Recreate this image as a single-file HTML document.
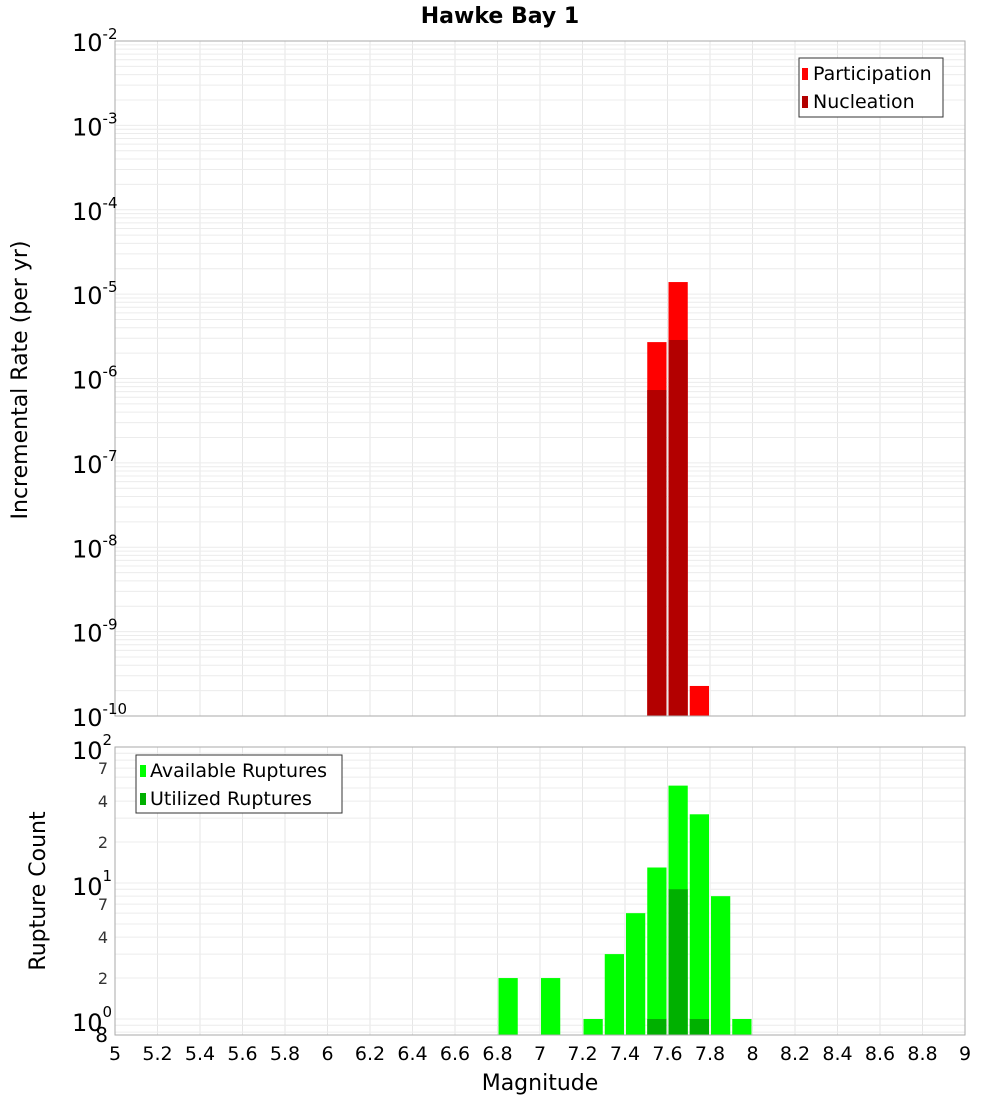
<!DOCTYPE html>
<html><head><meta charset="utf-8"><style>
body{margin:0;background:#fff;position:relative;}
svg{display:block;font-family:"DejaVu Sans","Liberation Sans",sans-serif;}
</style></head><body>
<svg id="chart" width="1000" height="1100" xmlns="http://www.w3.org/2000/svg">
<text x="500" y="23" text-anchor="middle" font-size="22" font-weight="bold">Hawke Bay 1</text>
<g id="topg"></g><g id="botg"></g>
</svg>
<script>
const rateBins=[7.55,7.65,7.75];
const participation=[2.7e-6,1.39e-5,2.27e-10];
const nucleation=[7.3e-7,2.86e-6,0];
const countBins=[6.85,7.05,7.25,7.35,7.45,7.55,7.65,7.75,7.85,7.95];
const available=[2,2,1,3,6,13,52,32,8,1];
const utilized=[0,0,0,0,0,1,9,1,0,0];
const xTicks=["5","5.2","5.4","5.6","5.8","6","6.2","6.4","6.6","6.8","7","7.2","7.4","7.6","7.8","8","8.2","8.4","8.6","8.8","9"];
const topExps=[-2,-3,-4,-5,-6,-7,-8,-9,-10];
const NS="http://www.w3.org/2000/svg";
const L=115,R=965;
const x=m=>L+(m-5)*(R-L)/4;
const yT=v=>41+(-2-Math.log10(v))*(716-41)/8;
const yB=v=>1019-Math.log10(v)*136;
function mk(p,tag,a){const e=document.createElementNS(NS,tag);for(const k in a)e.setAttribute(k,a[k]);p.appendChild(e);return e;}
const gTop=document.getElementById('topg'),gBot=document.getElementById('botg');
for(let i=0;i<=20;i++){const xx=x(5+i*0.2);
 let g=mk(gTop,'line',{x1:xx,x2:xx,y1:41,y2:716,stroke:'#e6e6e6'});
 
 
 g=mk(gBot,'line',{x1:xx,x2:xx,y1:747,y2:1035,stroke:'#e6e6e6'});
 
 }
for(let e=-10;e<-2;e++)for(let k=1;k<10;k++){const yy=yT(k*Math.pow(10,e));
 const g=mk(gTop,'line',{x1:L,x2:R,y1:yy,y2:yy,stroke:'#ececec'});
 
 }
for(let e=-1;e<2;e++)for(let k=1;k<10;k++){const v=k*Math.pow(10,e);const yy=yB(v);if(yy>1035||yy<747)continue;
 const g=mk(gBot,'line',{x1:L,x2:R,y1:yy,y2:yy,stroke:'#ececec'});
 
 }
const bw=(R-L)/40;
rateBins.forEach((m,i)=>{
 if(participation[i]>0){const r=mk(gTop,'rect',{x:x(m)-bw/2+1,y:yT(participation[i]),width:bw-2,height:716-yT(participation[i]),fill:'#ff0000'});
  
  }
 if(nucleation[i]>0){const r=mk(gTop,'rect',{x:x(m)-bw/2+1,y:yT(nucleation[i]),width:bw-2,height:716-yT(nucleation[i]),fill:'#b30000'});
  
  }
});
countBins.forEach((m,i)=>{
 if(available[i]>0){const r=mk(gBot,'rect',{x:x(m)-bw/2+1,y:yB(available[i]),width:bw-2,height:1035-yB(available[i]),fill:'#00ff00'});
  
  }
 if(utilized[i]>0){const r=mk(gBot,'rect',{x:x(m)-bw/2+1,y:yB(utilized[i]),width:bw-2,height:1035-yB(utilized[i]),fill:'#00b000'});
  
  }
});
let f=mk(gTop,'rect',{x:L,y:41,width:R-L,height:675,fill:'none',stroke:'#aaa'});


f=mk(gBot,'rect',{x:L,y:747,width:R-L,height:288,fill:'none',stroke:'#aaa'});


topExps.forEach(e=>{const yy=yT(Math.pow(10,e));
 const t=mk(gTop,'text',{x:72,y:yy+10,'font-size':24});
 
 
 t.textContent='10';const s=mk(t,'tspan',{dy:-12,'font-size':15});s.textContent=String(e);});
[[100,'2'],[10,'1'],[1,'0']].forEach(([v,e])=>{const yy=yB(v);
 const t=mk(gBot,'text',{x:72,y:yy+12,'font-size':24});
 
 
 t.textContent='10';const s=mk(t,'tspan',{dy:-14,'font-size':15});s.textContent=e;});
[70,40,20,7,4,2,0.8].forEach(v=>{const yy=yB(v);
 const t=mk(gBot,'text',{x:108,y:yy+(v===0.8?10:6),'font-size':v===0.8?20:16,'text-anchor':'end',fill:v===0.8?'#000':'#333'});
 
 
 t.textContent=String(Math.round(v/Math.pow(10,Math.floor(Math.log10(v)+1e-9))));});
xTicks.forEach(s=>{const t=mk(gBot,'text',{x:x(parseFloat(s)),y:1060,'font-size':19,'text-anchor':'middle'});
 
 
 t.textContent=s;});
</script>
<svg style="position:absolute;left:0;top:0" width="1000" height="1100" xmlns="http://www.w3.org/2000/svg" font-family="DejaVu Sans, Liberation Sans, sans-serif">
<text x="540" y="1090" text-anchor="middle" font-size="22">Magnitude</text>
<text transform="translate(27,380) rotate(-90)" text-anchor="middle" font-size="22">Incremental Rate (per yr)</text>
<text transform="translate(45,891) rotate(-90)" text-anchor="middle" font-size="22">Rupture Count</text>
<g>
<rect x="799" y="58" width="144" height="59" fill="#fff" stroke="#333"/>
<rect x="802" y="68" width="6" height="12" fill="#ff0000"/>
<text x="813" y="80" font-size="19">Participation</text>
<rect x="802" y="96" width="6" height="12" fill="#b30000"/>
<text x="813" y="108" font-size="19">Nucleation</text>
</g>
<g>
<rect x="136" y="755" width="206" height="58" fill="#fff" stroke="#333"/>
<rect x="140" y="765" width="6" height="12" fill="#00ff00"/>
<text x="150" y="777" font-size="19">Available Ruptures</text>
<rect x="140" y="793" width="6" height="12" fill="#00b000"/>
<text x="150" y="805" font-size="19">Utilized Ruptures</text>
</g>
</svg>
</body></html>
